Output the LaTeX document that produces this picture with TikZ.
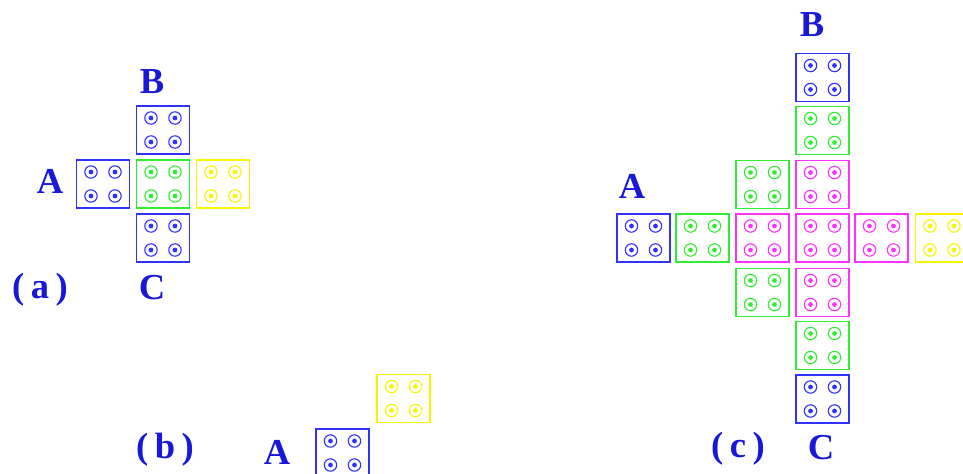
\documentclass[tikz,border=0pt]{standalone}
\usepackage{fontspec}
\newfontfamily\lblfont{Liberation Serif}
\usetikzlibrary{calc}
\definecolor{cellblue}{HTML}{3232FF}
\definecolor{cellgreen}{HTML}{32EE32}
\definecolor{cellyellow}{HTML}{F6F600}
\definecolor{cellpink}{HTML}{FF32FF}
\definecolor{textblue}{HTML}{1818D8}
% one square with its four rings: name, x, y, colour
\newcommand{\cellbox}[4]{%
  \node[cell,draw=#4] (#1) at (#2,#3) {};
  \foreach \dx in {-12,12}
    \foreach \dy in {-12,12}
      \node[ring=#4] at ($(#1)+(\dx,\dy)$) {};
}
% spaced brackets of the panel tags
\newcommand{\tagtext}[1]{(\kern0.18em#1\kern0.18em)}

\begin{document}
\begin{tikzpicture}[
  x=0.025cm,y=-0.025cm,
  cell/.style={draw,line width=1.2pt,minimum width=1.33cm,minimum height=1.2cm,inner sep=0pt},
  ring/.style={circle,draw=#1,line width=0.8pt,inner sep=0pt,minimum size=0.31cm,
    path picture={\fill[#1] (path picture bounding box.center) circle (0.06cm);}},
  lbl/.style={text=textblue,font=\lblfont\bfseries\fontsize{26}{28}\selectfont,inner sep=0pt}
]
\clip (0,0) rectangle (963,474);

% (a)
\cellbox{aA}{103}{184}{cellblue}
\cellbox{aMid}{163}{184}{cellgreen}
\cellbox{aEnd}{223}{184}{cellyellow}
\cellbox{aB}{163}{130}{cellblue}
\cellbox{aC}{163}{238}{cellblue}
\node[lbl] (aLabA) at (50,181) {A};
\node[lbl] (aLabB) at (152,82) {B};
\node[lbl] (aLabC) at (152,288) {C};
\node[lbl] (aTag) at (40,290) {\tagtext{a}};

% (b)
\cellbox{bEnd}{403.5}{398.5}{cellyellow}
\cellbox{bA}{342.5}{453}{cellblue}
\node[lbl] (bLabA) at (277,452) {A};
\node[lbl] (bTag) at (165,450) {\tagtext{b}};

% (c)
\cellbox{cA}{643.5}{238}{cellblue}
\cellbox{cRowG}{702.5}{238}{cellgreen}
\cellbox{cRowP}{762.5}{238}{cellpink}
\cellbox{cMid}{822.5}{238}{cellpink}
\cellbox{cRowQ}{881.5}{238}{cellpink}
\cellbox{cEnd}{942}{238}{cellyellow}
\cellbox{cUpL}{762.5}{184.5}{cellgreen}
\cellbox{cDnL}{762.5}{292.5}{cellgreen}
\cellbox{cB}{822.5}{77.5}{cellblue}
\cellbox{cColG}{822.5}{130.5}{cellgreen}
\cellbox{cColP}{822.5}{184.5}{cellpink}
\cellbox{cColQ}{822.5}{292.5}{cellpink}
\cellbox{cColH}{822.5}{345.5}{cellgreen}
\cellbox{cC}{822.5}{399}{cellblue}
\node[lbl] (cLabA) at (632,186) {A};
\node[lbl] (cLabB) at (812,25) {B};
\node[lbl] (cLabC) at (821,448) {C};
\node[lbl] (cTag) at (738,449) {\tagtext{c}};
\end{tikzpicture}
\end{document}
